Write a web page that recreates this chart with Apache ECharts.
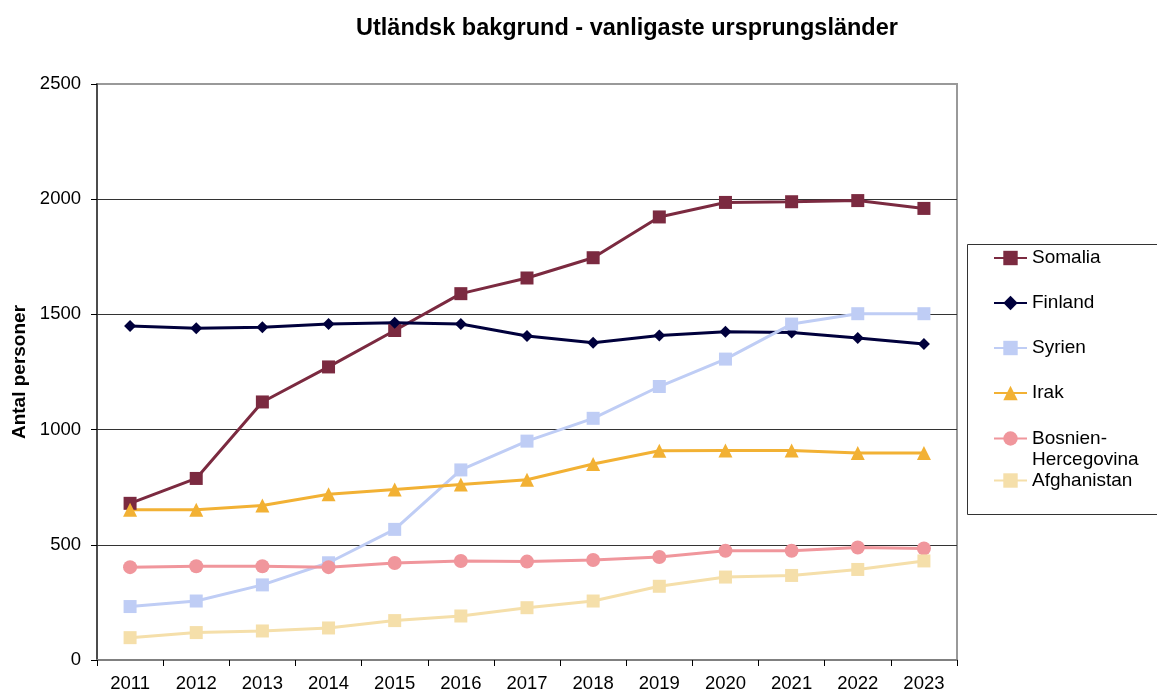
<!DOCTYPE html>
<html>
<head>
<meta charset="utf-8">
<script src="https://cdn.jsdelivr.net/npm/echarts@6/dist/echarts.min.js"></script>
<style>
  html, body { margin: 0; padding: 0; background: #fff; }
  #chart { width: 1157px; height: 696px; }
</style>
</head>
<body>
<div id="chart"></div>
<script>
const years = ['2011', '2012', '2013', '2014', '2015', '2016', '2017', '2018', '2019', '2020', '2021', '2022', '2023'];

const somalia = [680, 788, 1120, 1272, 1430, 1590, 1658, 1746, 1923, 1986, 1989, 1994, 1960];
const finland = [1450, 1440, 1444, 1458, 1464, 1458, 1406, 1377, 1408, 1425, 1421, 1398, 1372];
const syrien = [232, 256, 326, 422, 567, 825, 950, 1049, 1187, 1306, 1458, 1503, 1503];
const irak = [652, 652, 671, 719, 740, 762, 782, 851, 908, 909, 909, 898, 898];
const bosnien = [403, 407, 407, 403, 421, 430, 427, 434, 447, 474, 474, 488, 484];
const afghanistan = [97, 119, 126, 139, 171, 191, 227, 256, 320, 360, 367, 393, 430];

const yTicks = [0, 500, 1000, 1500, 2000, 2500];

const font = '"Liberation Sans", Arial, sans-serif';

const chart = echarts.init(document.getElementById('chart'));

function line(name, data, color, symbol, size) {
  return {
    name: name,
    type: 'line',
    data: data,
    symbol: symbol,
    symbolSize: size,
    lineStyle: { color: color, width: 3 },
    itemStyle: { color: color },
    emphasis: { disabled: true }
  };
}

const legendText = { color: '#000', fontSize: 19, fontFamily: font };

chart.setOption({
  animation: false,
  backgroundColor: '#fff',
  title: {
    text: 'Utländsk bakgrund - vanligaste ursprungsländer',
    left: 356,
    top: 15,
    padding: 0,
    textStyle: { color: '#000', fontSize: 23.5, fontWeight: 'bold', fontFamily: font, lineHeight: 28 }
  },
  grid: {
    left: 97,
    right: 200,
    top: 84,
    bottom: 36,
    outerBoundsMode: 'none',
    show: true,
    borderColor: '#999',
    borderWidth: 2
  },
  legend: [
    {
      data: ['Somalia', 'Finland', 'Syrien', 'Irak'],
      orient: 'vertical',
      left: 993,
      top: 247,
      padding: 0,
      itemGap: 23,
      itemWidth: 33,
      itemHeight: 18,
      selectedMode: false,
      textStyle: Object.assign({ lineHeight: 22 }, legendText)
    },
    {
      data: ['Bosnien-Hercegovina', 'Afghanistan'],
      // first line sits on the symbol, second line hangs below like in Excel
      formatter: function (name) {
        return name === 'Bosnien-Hercegovina' ? '\nBosnien-\nHercegovina' : name;
      },
      orient: 'vertical',
      left: 993,
      top: 407,
      padding: 0,
      itemGap: 0,
      itemWidth: 33,
      itemHeight: 18,
      selectedMode: false,
      textStyle: Object.assign({ lineHeight: 21 }, legendText)
    }
  ],
  graphic: [
    {
      type: 'rect',
      shape: { x: 967.5, y: 244.5, width: 210, height: 270 },
      style: { fill: 'none', stroke: '#333', lineWidth: 1 },
      silent: true
    }
  ],
  xAxis: {
    type: 'category',
    data: years,
    boundaryGap: true,
    axisLine: { lineStyle: { color: '#808080', width: 2 } },
    axisTick: { show: true, interval: 0, length: 6, lineStyle: { color: '#000' } },
    axisLabel: { color: '#000', fontSize: 18.5, fontFamily: font, margin: 14, interval: 0 },
    splitLine: { show: false }
  },
  yAxis: {
    type: 'value',
    min: yTicks[0],
    max: yTicks[yTicks.length - 1],
    interval: 500,
    name: 'Antal personer',
    nameLocation: 'middle',
    nameRotate: 90,
    nameGap: 68,
    nameTextStyle: { color: '#000', fontSize: 19, fontWeight: 'bold', fontFamily: font },
    axisLine: { show: true, lineStyle: { color: '#333', width: 1.5 } },
    axisTick: { show: true, length: 6, lineStyle: { color: '#000' } },
    axisLabel: {
      color: '#000',
      fontSize: 18.5,
      fontFamily: font,
      margin: 16,
      formatter: function (v) { return String(v); }
    },
    splitLine: {
      show: true,
      lineStyle: { color: ['#808080', '#333', '#333', '#333', '#333', '#999'], width: 1 }
    }
  },
  series: [
    line('Somalia', somalia, '#7B2A40', 'rect', 13),
    line('Finland', finland, '#00003C', 'diamond', 12),
    line('Syrien', syrien, '#BFCDF5', 'rect', 13),
    line('Irak', irak, '#F2B134', 'triangle', 14),
    line('Bosnien-Hercegovina', bosnien, '#F0969C', 'circle', 14),
    line('Afghanistan', afghanistan, '#F5DFAA', 'rect', 13)
  ]
});
</script>
</body>
</html>
